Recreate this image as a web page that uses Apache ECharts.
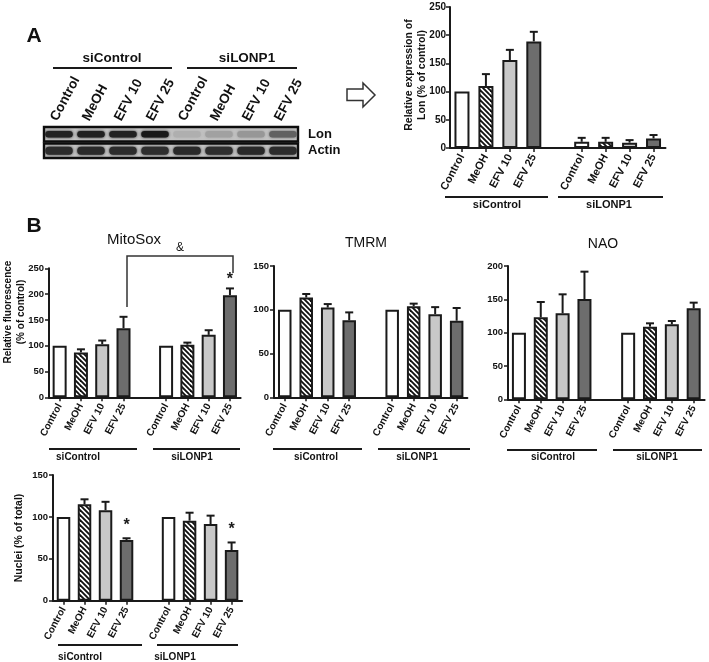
<!DOCTYPE html>
<html><head><meta charset="utf-8">
<script src="https://cdn.jsdelivr.net/npm/echarts/dist/echarts.min.js"></script>
<style>html,body{margin:0;padding:0;background:#fff}#c{width:709px;height:662px}</style>
</head><body><div id="c"></div>
<script>
// ---------- data ----------
const treatments = ['Control', 'MeOH', 'EFV 10', 'EFV 25'];
const groups = ['siControl', 'siLONP1'];

// A: western blot band intensities (0 = no band, 1 = darkest)
const blotRows = ['Lon', 'Actin'];
const lonBand = [0.92, 0.93, 0.92, 0.97, 0.10, 0.18, 0.24, 0.55];
const actinBand = [0.86, 0.87, 0.86, 0.85, 0.87, 0.85, 0.88, 0.86];

// A: relative expression of Lon (% of control)
const lonMean = [100, 110, 156, 189, 11, 11, 9.5, 17];
const lonSem  = [0, 21, 18, 17, 7, 7, 4.5, 6];

// B: MitoSox relative fluorescence
const mitoMean = [100, 87, 103, 134, 100, 102, 121, 198];
const mitoSem  = [0, 6, 7, 22, 0, 4, 9, 13];
const mitoSig  = ['', '', '', '', '', '', '', '*'];

// B: TMRM
const tmrmMean = [100, 114, 102.5, 88, 100, 104, 95, 87.5];
const tmrmSem  = [0, 4, 4, 9, 0, 3, 8, 14.5];

// B: NAO
const naoMean = [100, 123, 129, 150.5, 100, 109, 112.5, 136.5];
const naoSem  = [0, 23, 28.5, 41, 0, 5, 5, 8.5];

// B: Nuclei (% of total)
const nucMean = [100, 115, 108, 72.5, 100, 95.5, 91.5, 60.5];
const nucSem  = [0, 6, 10, 2, 0, 9.5, 10, 9];
const nucSig  = ['', '', '', '*', '', '', '', '*'];

// axis maxima (ticks every 50)
const yMaxLon = 250, yMaxMito = 250, yMaxTmrm = 150, yMaxNao = 200, yMaxNuc = 150;
const yStep = 50;

// ---------- styling ----------
const ink = '#1a1a1a';
const font = '"Liberation Sans", Arial, Helvetica, sans-serif';

function hatchPattern() {
  const c = document.createElement('canvas');
  c.width = 10; c.height = 10;
  const g = c.getContext('2d');
  g.fillStyle = '#ffffff'; g.fillRect(0, 0, 10, 10);
  g.strokeStyle = '#111111'; g.lineWidth = 1.9;
  for (let k = -15; k <= 15; k += 5) {
    g.beginPath(); g.moveTo(k - 1, -1); g.lineTo(k + 11, 11); g.stroke();
  }
  return c;
}
const fills = ['#ffffff', { image: hatchPattern(), repeat: 'repeat' }, '#c8c8c8', '#6d6d6d'];

// 9 category slots: 4 + gap + 4
function slots(arr, gap) { return [...arr.slice(0, 4), gap, ...arr.slice(4)]; }
const chartCats = slots(treatments.concat(treatments), '');

// ---------- panels ----------
const panels = [
  { mean: lonMean, sem: lonSem, sig: null, yMax: yMaxLon,
    L: { left: 450, top: 7, width: 215.5, height: 141 }, barW: 15, xfs: 11, yfs: 10, ymargin: 4, sigOff: 0 },
  { mean: mitoMean, sem: mitoSem, sig: mitoSig, yMax: yMaxMito,
    L: { left: 49, top: 268.3, width: 191.6, height: 129 }, barW: 14, xfs: 10, yfs: 9.5, ymargin: 5, sigOff: 9 },
  { mean: tmrmMean, sem: tmrmSem, sig: null, yMax: yMaxTmrm,
    L: { left: 274, top: 266, width: 193.4, height: 131.3 }, barW: 13.5, xfs: 10, yfs: 9.5, ymargin: 5, sigOff: 0 },
  { mean: naoMean, sem: naoSem, sig: null, yMax: yMaxNao,
    L: { left: 508, top: 266, width: 196.6, height: 133.3 }, barW: 14, xfs: 10, yfs: 9.5, ymargin: 5, sigOff: 0 },
  { mean: nucMean, sem: nucSem, sig: nucSig, yMax: yMaxNuc,
    L: { left: 53, top: 475, width: 189.1, height: 125.7 }, barW: 13.5, xfs: 10, yfs: 9.5, ymargin: 5, sigOff: 13 }
];

const grid = [], xAxis = [], yAxis = [], series = [];

function errRender(params, api) {
  const i = api.value(0);
  const b = api.coord([i, api.value(1)]);
  const t = api.coord([i, api.value(2)]);
  const cap = 4;
  return { type: 'group', children: [
    { type: 'line', shape: { x1: b[0], y1: b[1], x2: t[0], y2: t[1] }, style: { stroke: ink, lineWidth: 2 } },
    { type: 'line', shape: { x1: t[0] - cap, y1: t[1], x2: t[0] + cap, y2: t[1] }, style: { stroke: ink, lineWidth: 2 } }
  ] };
}

panels.forEach((p, k) => {
  grid.push(Object.assign({ containLabel: false, outerBoundsMode: 'none' }, p.L));
  xAxis.push({
    type: 'category', gridIndex: k, data: chartCats, position: 'bottom',
    axisLine: { show: true, lineStyle: { color: ink, width: 2 } },
    axisTick: { show: true, alignWithLabel: true, length: 4, lineStyle: { color: ink, width: 1.5 },
      interval: (i, v) => v !== '' },
    axisLabel: { interval: 0, rotate: 62, margin: 7, fontFamily: font, fontWeight: 'bold',
      fontSize: p.xfs, color: '#111' },
    splitLine: { show: false }
  });
  yAxis.push({
    type: 'value', gridIndex: k, min: 0, max: p.yMax, interval: yStep,
    axisLine: { show: true, lineStyle: { color: ink, width: 2 } },
    axisTick: { show: true, length: 4, lineStyle: { color: ink, width: 1.5 } },
    axisLabel: { margin: p.ymargin, fontFamily: font, fontWeight: 'bold', fontSize: p.yfs, color: '#111' },
    splitLine: { show: false }
  });
  const meanS = slots(p.mean, null);
  series.push({
    type: 'bar', xAxisIndex: k, yAxisIndex: k, barWidth: p.barW, silent: true,
    data: meanS.map((v, i) => v == null ? null : {
      value: v,
      itemStyle: { color: fills[i < 4 ? i : i - 5], borderColor: ink, borderWidth: 2 }
    })
  });
  const errData = [];
  p.mean.forEach((m, j) => {
    if (p.sem[j] > 0) errData.push([j < 4 ? j : j + 1, m, m + p.sem[j]]);
  });
  series.push({ type: 'custom', xAxisIndex: k, yAxisIndex: k, coordinateSystem: 'cartesian2d',
    silent: true, renderItem: errRender, data: errData, z: 3 });
  if (p.sig) {
    const sigItems = [];
    p.sig.forEach((s, j) => {
      if (s) sigItems.push({ value: [j < 4 ? j : j + 1, p.mean[j] + p.sem[j]], mark: s });
    });
    series.push({ type: 'custom', xAxisIndex: k, yAxisIndex: k, coordinateSystem: 'cartesian2d',
      silent: true, z: 3, data: sigItems.map(d => d.value),
      renderItem: (params, api) => {
        const c = api.coord([api.value(0), api.value(1)]);
        return { type: 'text', x: c[0], y: c[1] - p.sigOff,
          style: { text: sigItems[params.dataIndex].mark, fontFamily: font, fontSize: 16,
            fontWeight: 'bold', fill: ink, align: 'center', verticalAlign: 'middle' } };
      } });
  }
});

// ---------- blot ----------
const blotLanes = treatments.concat(treatments);
const bg = grid.length;
grid.push({ left: 43, top: 126, width: 256, height: 33, containLabel: false, outerBoundsMode: 'none' });
xAxis.push({ type: 'category', gridIndex: bg, data: blotLanes, show: false });
yAxis.push({ type: 'category', gridIndex: bg, data: blotRows, inverse: true, position: 'right',
  axisLine: { show: false }, axisTick: { show: false },
  axisLabel: { interval: 0, margin: 9, fontFamily: font, fontWeight: 'bold', fontSize: 13, color: '#111' } });
// lane labels on a companion grid
const lg = grid.length;
grid.push({ left: 38, top: 126, width: 256, height: 33, containLabel: false, outerBoundsMode: 'none' });
xAxis.push({ type: 'category', gridIndex: lg, data: blotLanes, position: 'top',
  axisLine: { show: false }, axisTick: { show: false },
  axisLabel: { interval: 0, rotate: 62, margin: 6, fontFamily: font, fontWeight: 'bold', fontSize: 13.5, color: '#111' } });
yAxis.push({ type: 'value', gridIndex: lg, show: false });

series.push({ type: 'custom', xAxisIndex: bg, yAxisIndex: bg, coordinateSystem: 'cartesian2d', silent: true, z: 1,
  data: blotRows.map((r, i) => [0, i]),
  renderItem: (params, api) => {
    const cs = params.coordSys;
    const c = api.coord([0, api.value(1)]);
    const h = api.size([1, 1])[1];
    return { type: 'rect', shape: { x: cs.x + 1, y: c[1] - h / 2 + 1, width: cs.width - 2, height: h - 2 },
      style: { fill: '#c2c2c2', stroke: '#0d0d0d', lineWidth: 2.4 } };
  } });
const bandData = [];
lonBand.forEach((v, i) => bandData.push([i, 0, v]));
actinBand.forEach((v, i) => bandData.push([i, 1, v]));
series.push({ type: 'custom', xAxisIndex: bg, yAxisIndex: bg, coordinateSystem: 'cartesian2d', silent: true, z: 2,
  data: bandData,
  renderItem: (params, api) => {
    const c = api.coord([api.value(0), api.value(1)]);
    const s = api.size([1, 1]);
    const k = api.value(2);
    const w = s[0] * 0.86, h = s[1] * (api.value(1) === 0 ? 0.4 : 0.48);
    const g = Math.round(192 - 172 * k);
    const col = 'rgb(' + g + ',' + g + ',' + g + ')';
    return { type: 'rect', shape: { x: c[0] - w / 2, y: c[1] - h / 2, width: w, height: h, r: h / 2 },
      style: { fill: col, shadowBlur: 3, shadowColor: col } };
  } });

// ---------- annotations ----------
function txt(x, y, text, size, weight, extra) {
  return Object.assign({ type: 'text', x: x, y: y, silent: true,
    style: { text: text, fontFamily: font, fontSize: size, fontWeight: weight || 'normal',
      fill: '#111', align: 'center', verticalAlign: 'middle' } }, extra || {});
}
function vtxt(x, y, text, size, weight, lh) {
  const t = txt(x, y, text, size, weight, { rotation: Math.PI / 2 });
  t.style.lineHeight = lh;
  return t;
}
function hline(x1, x2, y, w) {
  return { type: 'line', silent: true, shape: { x1: x1, y1: y, x2: x2, y2: y },
    style: { stroke: ink, lineWidth: w || 2 } };
}
function groupUnder(spec, size) {
  const out = [];
  spec.forEach(s => {
    out.push(hline(s[0], s[1], s[2]));
    out.push(txt(s[3], s[4], s[5], size, 'bold'));
  });
  return out;
}

const graphic = [
  txt(34, 36, 'A', 21, 'bold'),
  txt(34, 226, 'B', 21, 'bold'),
  // blot group labels
  ...groupUnder([[53, 172, 68, 112, 58, groups[0]], [187, 297, 68, 247, 58, groups[1]]], 13.5),
  // arrow
  { type: 'polygon', silent: true,
    shape: { points: [[347, 89], [363, 89], [363, 83], [375, 95], [363, 107], [363, 100.5], [347, 100.5]] },
    style: { fill: '#fff', stroke: '#333', lineWidth: 1.5 } },
  // panel A quant
  vtxt(416, 75, 'Relative expression of\nLon (% of control)', 10.5, 'bold', 13),
  ...groupUnder([[445, 548, 197, 497, 205, groups[0]], [558, 663, 197, 609, 205, groups[1]]], 11),
  // MitoSox
  txt(134, 240, 'MitoSox', 15, 'normal'),
  txt(180, 248, '&', 12, 'normal'),
  { type: 'polyline', silent: true, shape: { points: [[127, 307], [127, 256], [233, 256], [233, 273]] },
    style: { stroke: '#333', lineWidth: 1.5, fill: null } },
  vtxt(15, 312, 'Relative fluorescence\n(% of control)', 10, 'bold', 12.7),
  ...groupUnder([[49, 137, 449, 78, 457, groups[0]], [153, 240, 449, 192, 457, groups[1]]], 10),
  // TMRM
  txt(366, 243, 'TMRM', 14, 'normal'),
  ...groupUnder([[273, 362, 449, 316, 457, groups[0]], [378, 470, 449, 417, 457, groups[1]]], 10),
  // NAO
  txt(603, 244, 'NAO', 14, 'normal'),
  ...groupUnder([[507, 597, 450, 553, 457, groups[0]], [613, 702, 450, 657, 457, groups[1]]], 10),
  // Nuclei
  vtxt(19, 538, 'Nuclei (% of total)', 10.5, 'bold', 12),
  ...groupUnder([[58, 142, 645, 80, 657, groups[0]], [157, 238, 645, 175, 657, groups[1]]], 10)
];

const chart = echarts.init(document.getElementById('c'), null, { renderer: 'canvas' });
chart.setOption({
  animation: false,
  backgroundColor: '#ffffff',
  textStyle: { fontFamily: font },
  grid: grid, xAxis: xAxis, yAxis: yAxis, series: series, graphic: graphic
});
</script></body></html>
